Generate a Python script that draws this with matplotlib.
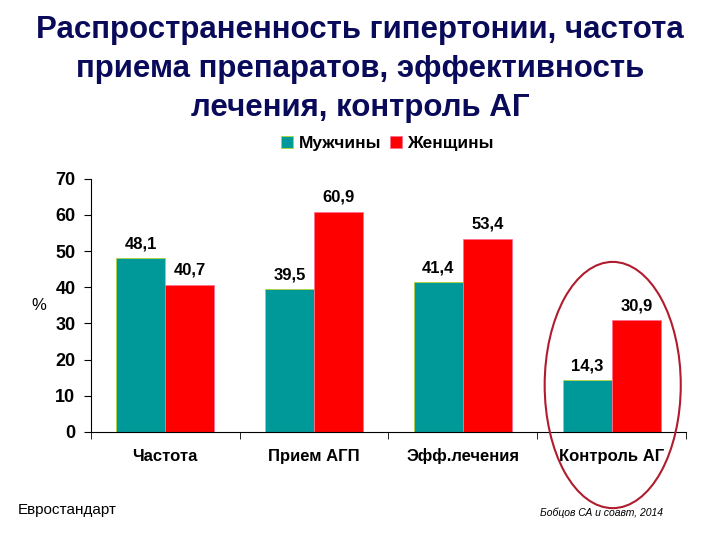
import matplotlib.pyplot as plt
from matplotlib.patches import Ellipse
import numpy as np

plt.rcParams['font.family'] = ['Liberation Sans', 'DejaVu Sans']

categories = ['Частота', 'Прием АГП', 'Эфф.лечения', 'Контроль АГ']
men = [48.1, 39.5, 41.4, 14.3]
women = [40.7, 60.9, 53.4, 30.9]
series_names = ['Мужчины', 'Женщины']
yticks = [0, 10, 20, 30, 40, 50, 60, 70]

teal = '#009999'
red = '#ff0000'

fig = plt.figure(figsize=(7.2, 5.4), dpi=100)
ax = fig.add_axes([0.126, 0.2, 0.827, 0.469])

x = np.arange(len(categories))
w = 0.33
b1 = ax.bar(x - w / 2, men, w, color=teal, edgecolor='#b5d334', linewidth=0.6, label=series_names[0])
b2 = ax.bar(x + w / 2, women, w, color=red, edgecolor='#ff6f8f', linewidth=0.6, label=series_names[1])

for bars, vals in ((b1, men), (b2, women)):
    for r, v in zip(bars, vals):
        ax.annotate(f'{v:.1f}'.replace('.', ','), (r.get_x() + r.get_width() / 2, v),
                    xytext=(0, 5), textcoords='offset points', ha='center', va='bottom',
                    fontsize=12, fontweight='bold')

ax.set_xlim(-0.5, len(categories) - 0.5)
ax.set_ylim(0, 70)
ax.set_yticks(yticks)
ax.set_xticks(x)
ax.set_xticklabels(categories, fontsize=12, fontweight='bold')
for t in ax.get_xticklabels():
    t.set_verticalalignment('baseline')
ax.set_xticks(np.arange(-0.5, len(categories)), minor=True)
ax.tick_params(axis='x', which='major', length=0, pad=21)
ax.tick_params(axis='x', which='minor', length=5, direction='out')
ax.tick_params(axis='y', length=5, direction='out', labelsize=13, pad=6)
for t in ax.get_yticklabels():
    t.set_fontweight('bold')
ax.spines['top'].set_visible(False)
ax.spines['right'].set_visible(False)
ax.set_ylabel('%', fontsize=12, rotation=0, labelpad=12, va='center')

title_color = '#0a0a5a'
fig.text(0.5, 0.945, 'Распространенность гипертонии, частота', ha='center', va='center',
         fontsize=22.5, fontweight='bold', color=title_color)
fig.text(0.5, 0.872, 'приема препаратов, эффективность', ha='center', va='center',
         fontsize=22.5, fontweight='bold', color=title_color)
fig.text(0.5, 0.800, 'лечения, контроль АГ', ha='center', va='center',
         fontsize=22.5, fontweight='bold', color=title_color)

fig.legend(handles=[b1, b2], labels=series_names, loc='center', bbox_to_anchor=(0.538, 0.735),
           ncol=2, frameon=False, prop={'weight': 'bold', 'size': 12.5},
           handlelength=0.7, handleheight=0.7, handletextpad=0.3, columnspacing=0.5)

ell = Ellipse((0.851, 0.287), 0.189, 0.456, transform=fig.transFigure,
              fill=False, edgecolor='#b01c2e', linewidth=1.5)
fig.patches.append(ell)

fig.text(0.025, 0.055, 'Евростандарт', fontsize=11, va='center')
fig.text(0.75, 0.05, 'Бобцов СА и соавт, 2014', fontsize=7.5, style='italic', va='center')

fig.savefig('out.png', dpi=100)
